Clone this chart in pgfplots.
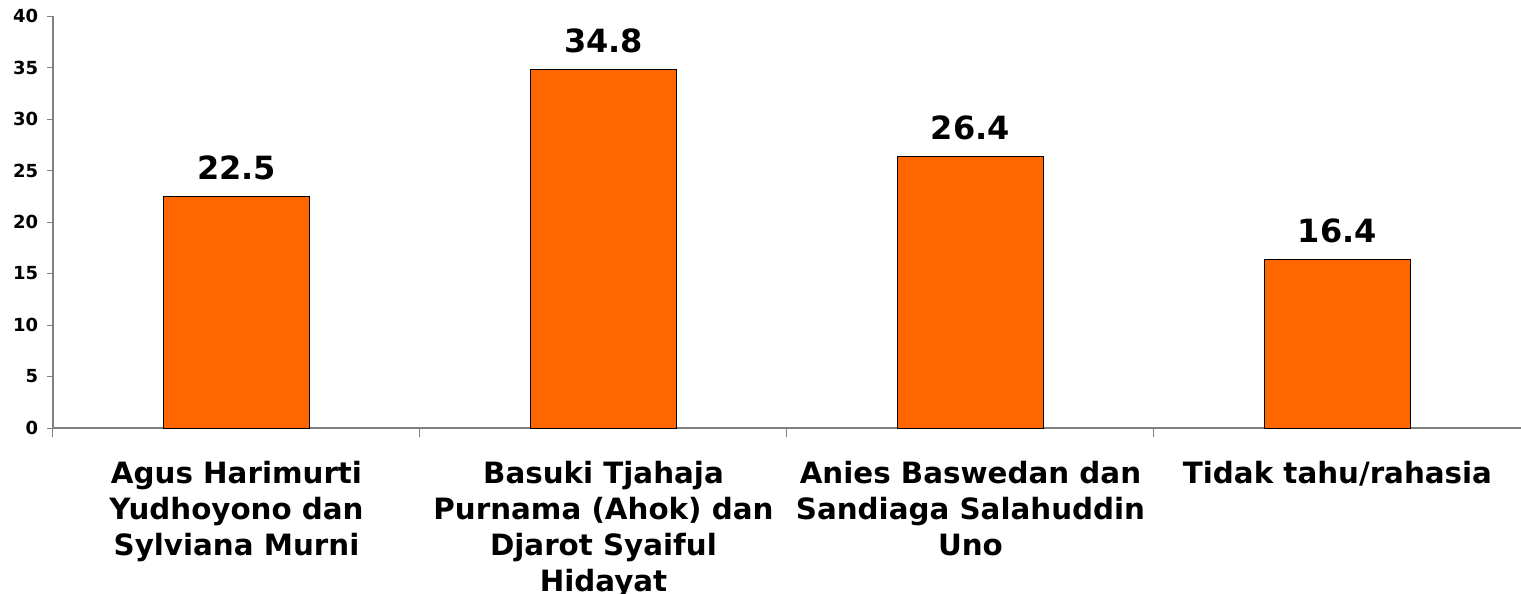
\documentclass[border=0pt]{standalone}
\usepackage{fontspec}
\setmainfont{DejaVu Sans}
\usepackage{pgfplots}
\pgfplotsset{compat=1.18}
\definecolor{barorange}{HTML}{FF6600}
\definecolor{axisgray}{HTML}{808080}
\begin{document}
\begin{tikzpicture}
\useasboundingbox (-39.75pt,-123.75pt) rectangle (1101pt,321pt);
\begin{axis}[
  at={(0pt,0pt)}, anchor=south west,
  scale only axis,
  width=1101pt, height=309pt,
  ybar, bar width=0.4,
  xmin=-0.5, xmax=3.5,
  ymin=0, ymax=40,
  ytick={0,5,...,40},
  xtick={0,1,2,3},
  xticklabels={{Agus Harimurti\\Yudhoyono dan\\Sylviana Murni},
               {Basuki Tjahaja\\Purnama (Ahok) dan\\Djarot Syaiful\\Hidayat},
               {Anies Baswedan dan\\Sandiaga Salahuddin\\Uno},
               {Tidak tahu/rahasia}},
  minor xtick={-0.5,0.5,1.5,2.5},
  xtick style={draw=none},
  minor x tick style={draw=axisgray, line width=0.75pt},
  ytick style={draw=axisgray, line width=0.75pt},
  minor tick length=6.75pt,
  major tick length=4.5pt,
  tick align=outside,
  axis x line*=bottom, axis y line*=left,
  axis line style={draw=axisgray, line width=0.9pt, -},
  /pgf/number format/assume math mode=true,
  yticklabel style={font=\fontsize{13.5}{15}\selectfont\bfseries, anchor=east, inner sep=0pt, xshift=-6.5pt},
  xticklabel style={font=\fontsize{22}{27}\selectfont\bfseries, align=center, anchor=north, inner sep=0pt, yshift=-20pt},
  nodes near coords,
  nodes near coords style={font=\fontsize{24}{28}\selectfont\bfseries, anchor=south, inner sep=0pt, yshift=12pt,
    /pgf/number format/fixed, /pgf/number format/precision=1, /pgf/number format/fixed zerofill},
  clip=false,
]
\addplot[fill=barorange, draw=black, line width=0.6pt] coordinates {(0,22.5) (1,34.8) (2,26.4) (3,16.4)};
\end{axis}
\end{tikzpicture}
\end{document}
